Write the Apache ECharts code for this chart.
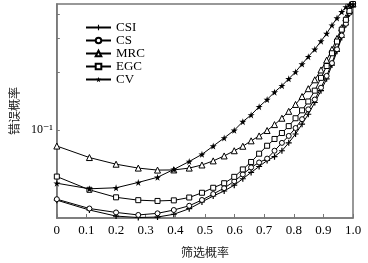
<!DOCTYPE html>
<html>
<head>
<meta charset="utf-8">
<script src="https://cdn.jsdelivr.net/npm/echarts@6/dist/echarts.min.js"></script>
<style>
  html, body { margin: 0; padding: 0; background: #fff; }
  #chart { width: 368px; height: 263px; }
</style>
</head>
<body>
<div id="chart"></div>
<script>
// 筛选概率 (shared by all curves)
const xData = [0, 0.11, 0.2, 0.275, 0.34, 0.395, 0.447, 0.49, 0.528, 0.565, 0.599, 0.628, 0.656, 0.683, 0.71,
  0.735, 0.76, 0.783, 0.806, 0.828, 0.849, 0.871, 0.892, 0.911, 0.929, 0.946, 0.962, 0.976, 0.988, 1.0];

const csi = [0.0433, 0.0385, 0.0358, 0.0352, 0.0354, 0.0366, 0.0391, 0.0424, 0.0455, 0.0483, 0.0518, 0.0559, 0.0603, 0.0647, 0.0695,
  0.0728, 0.0781, 0.0858, 0.0954, 0.1073, 0.1207, 0.1389, 0.1600, 0.1842, 0.2172, 0.2559, 0.3018, 0.3515, 0.4000, 0.4446];
const cs = [0.0438, 0.0392, 0.0374, 0.0363, 0.0370, 0.0385, 0.0405, 0.0434, 0.0466, 0.0500, 0.0543, 0.0589, 0.0640, 0.0679, 0.0711,
  0.0781, 0.0858, 0.0932, 0.1024, 0.1138, 0.1280, 0.1439, 0.1657, 0.1908, 0.2223, 0.2620, 0.3090, 0.3556, 0.4049, 0.4498];
const mrc = [0.0826, 0.0720, 0.0665, 0.0635, 0.0620, 0.0621, 0.0635, 0.0659, 0.0692, 0.0734, 0.0781, 0.0824, 0.0879, 0.0932, 0.0994,
  0.1067, 0.1151, 0.1250, 0.1357, 0.1491, 0.1638, 0.1821, 0.2048, 0.2303, 0.2620, 0.2983, 0.3393, 0.3817, 0.4194, 0.4498];
const egc = [0.0574, 0.0490, 0.0448, 0.0433, 0.0429, 0.0432, 0.0447, 0.0473, 0.0502, 0.0530, 0.0572, 0.0625, 0.0683, 0.0754, 0.0829,
  0.0899, 0.0965, 0.1048, 0.1151, 0.1265, 0.1406, 0.1600, 0.1864, 0.2147, 0.2500, 0.2876, 0.3314, 0.3728, 0.4145, 0.4498];
const cv = [0.0530, 0.0496, 0.0502, 0.0535, 0.0569, 0.0625, 0.0687, 0.0748, 0.0826, 0.0910, 0.0997, 0.1105, 0.1197, 0.1321, 0.1439,
  0.1572, 0.1697, 0.1842, 0.2000, 0.2197, 0.2399, 0.2620, 0.2888, 0.3162, 0.3494, 0.3803, 0.4097, 0.4343, 0.4472, 0.4498];

const yTicks = [0.1, 0.2, 0.3, 0.4];
const yLabels = [0.1];

const serif = '"Liberation Serif", "DejaVu Serif", serif';
const cjk = '"Noto Sans CJK SC", sans-serif';

const plusPath = 'path://M4,0H6V4H10V6H6V10H4V6H0V4H4Z';
const starPath = 'path://M50,0L61,35H98L68,57L79,91L50,70L21,91L32,57L2,35H39Z';

function pairs(ys) {
  return xData.map((x, i) => [x, ys[i]]);
}

function makeSeries(name, ys, symbol, size, hollow) {
  return {
    name: name,
    type: 'line',
    data: pairs(ys),
    symbol: symbol,
    symbolSize: size,
    showAllSymbol: true,
    lineStyle: { color: '#000', width: 1 },
    itemStyle: hollow
      ? { color: '#fff', borderColor: '#000', borderWidth: 1 }
      : { color: '#000', borderColor: '#000', borderWidth: 0 },
    emphasis: { disabled: true },
    animation: false
  };
}

const chart = echarts.init(document.getElementById('chart'));
chart.setOption({
  backgroundColor: '#fff',
  animation: false,
  grid: {
    left: 54, right: 15, top: 4, bottom: 42,
    show: true, borderColor: '#777', borderWidth: 1.5
  },
  legend: {
    orient: 'vertical',
    left: 80, top: 16,
    itemWidth: 25, itemHeight: 7, itemGap: 0,
    textStyle: { fontFamily: serif, fontSize: 13, color: '#000' },
    data: ['CSI', 'CS', 'MRC', 'EGC', 'CV']
  },
  xAxis: {
    type: 'value',
    min: 0, max: 1, interval: 0.1,
    name: '筛选概率',
    nameLocation: 'middle',
    nameGap: 28,
    nameTextStyle: { fontFamily: cjk, fontSize: 12, color: '#222' },
    axisLine: { lineStyle: { color: '#777', width: 1.5 } },
    axisTick: { inside: true, length: 4, lineStyle: { color: '#777' } },
    axisLabel: {
      fontFamily: serif, fontSize: 13, color: '#000', margin: 6,
      formatter: v => (v === 0 ? '0' : v.toFixed(1))
    },
    splitLine: { show: false }
  },
  yAxis: {
    type: 'log',
    logBase: 10,
    min: 0.035, max: 0.45,
    name: '错误概率',
    nameLocation: 'middle',
    nameRotate: 90,
    nameGap: 35,
    nameTextStyle: { fontFamily: cjk, fontSize: 12, color: '#222' },
    axisLine: { show: true, lineStyle: { color: '#777', width: 1.5 } },
    axisTick: { inside: true, length: 3, customValues: yTicks, lineStyle: { color: '#777' } },
    axisLabel: {
      fontFamily: serif, fontSize: 12, color: '#000', margin: 4,
      customValues: yLabels,
      formatter: () => '10⁻¹'
    },
    splitLine: { show: false }
  },
  series: [
    makeSeries('CSI', csi, plusPath, 6, false),
    makeSeries('CS', cs, 'circle', 5, true),
    makeSeries('MRC', mrc, 'triangle', 6, true),
    makeSeries('EGC', egc, 'rect', 5, true),
    makeSeries('CV', cv, starPath, 7, false)
  ]
});
</script>
</body>
</html>
